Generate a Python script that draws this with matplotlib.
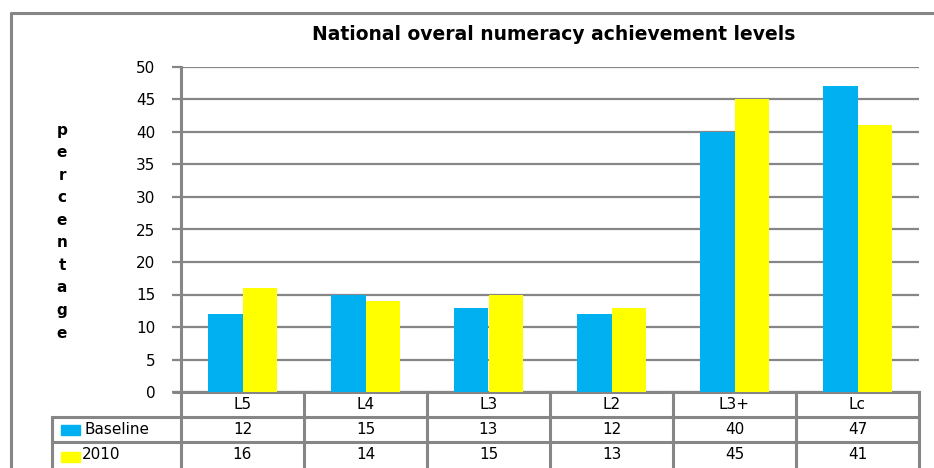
import matplotlib
matplotlib.use("Agg")
import matplotlib.pyplot as plt
from matplotlib.lines import Line2D
from matplotlib.patches import Rectangle
import numpy as np

categories = ["L5", "L4", "L3", "L2", "L3+", "Lc"]
series_names = ["Baseline", "2010"]
baseline = [12, 15, 13, 12, 40, 47]
y2010 = [16, 14, 15, 13, 45, 41]
yticks = [0, 5, 10, 15, 20, 25, 30, 35, 40, 45, 50]
title = "National overal numeracy achievement levels"
ylabel = "percentage"

BLUE = "#00B0F0"
YELLOW = "#FFFF00"
GRAY = "#868686"
FS = 11

W, H = 934, 468
fig = plt.figure(figsize=(W / 100, H / 100), dpi=100)
fig.patch.set_facecolor("white")

def fx(px):
    return px / W

def fy(py):
    return 1 - py / H

# plot area in pixels
L, R, T, B = 181, 919, 67, 392
ax = fig.add_axes([fx(L), fy(B), fx(R) - fx(L), fy(T) - fy(B)])
n = len(categories)
x = np.arange(n)
bw = 0.28
ax.bar(x - bw / 2, baseline, bw, color=BLUE, zorder=3, linewidth=0)
ax.bar(x + bw / 2, y2010, bw, color=YELLOW, zorder=3, linewidth=0)
ax.set_xlim(-0.5, n - 0.5)
ax.set_ylim(0, 50)
ax.set_yticks(yticks)
ax.set_xticks([])
for s in ["top", "right"]:
    ax.spines[s].set_visible(False)
ax.spines["left"].set_color(GRAY)
ax.spines["left"].set_linewidth(2.2)
ax.spines["bottom"].set_color(GRAY)
ax.spines["bottom"].set_linewidth(2.2)
ax.tick_params(axis="y", direction="out", length=6.5, width=1.6, color=GRAY,
               pad=12, labelsize=FS, labelcolor="black")
ax.yaxis.grid(True, color=GRAY, linewidth=1.6, zorder=0)
ax.set_axisbelow(True)
fig.add_artist(Line2D([fx(172), fx(181)], [fy(B), fy(B)], color=GRAY, lw=2.2,
                      solid_capstyle="butt"))

fig.text(fx(554), fy(35), title, fontsize=13.5, fontweight="bold",
         ha="center", va="center")

# vertical y-label letters
letters = list(ylabel)
y0, y1 = 130, 333
for i, ch in enumerate(letters):
    py = y0 + i * (y1 - y0) / (len(letters) - 1)
    fig.text(fx(62), fy(py), ch, fontsize=FS, fontweight="bold",
             ha="center", va="center")

# data table axes
tax = fig.add_axes([fx(L), 0, fx(R) - fx(L), fy(B)])
tax.set_xlim(-0.5, n - 0.5)
tax.set_ylim(3.0 * (H - B) / 75.0, 0)
tax.axis("off")
scale = n / (R - L)

def dx(px):
    return -0.5 + (px - L) * scale

lw_t = 2.2
left_edge = dx(52)
for r in [1, 2]:
    tax.plot([left_edge, n - 0.5], [r, r], color=GRAY, lw=lw_t, clip_on=False,
             solid_capstyle="butt")
tax.plot([left_edge, left_edge], [1, 3.2], color=GRAY, lw=lw_t, clip_on=False)
for b in np.arange(n + 1) - 0.5:
    tax.plot([b, b], [0, 3.2], color=GRAY, lw=lw_t, clip_on=False)

for i, c in enumerate(categories):
    tax.text(i, 0.5, c, ha="center", va="center", fontsize=FS)
    tax.text(i, 1.5, str(baseline[i]), ha="center", va="center", fontsize=FS)
    tax.text(i, 2.5, str(y2010[i]), ha="center", va="center", fontsize=FS)

# legend keys in table
key_w = (80 - 61) * scale
tax.add_patch(Rectangle((dx(61), 1.32), key_w, 0.38, color=BLUE, clip_on=False))
tax.add_patch(Rectangle((dx(61), 2.4), key_w, 0.38, color=YELLOW, clip_on=False))
tax.text(dx(84), 1.5, series_names[0], ha="left", va="center", fontsize=FS)
tax.text(dx(82), 2.5, series_names[1], ha="left", va="center", fontsize=FS)

# outer chart frame
fig.add_artist(Line2D([fx(11), fx(11)], [0, fy(12)], color=GRAY, lw=2.2,
                      solid_capstyle="butt"))
fig.add_artist(Line2D([fx(10), 1], [fy(13), fy(13)], color=GRAY, lw=2.2,
                      solid_capstyle="butt"))

fig.savefig("out.png", dpi=100)
